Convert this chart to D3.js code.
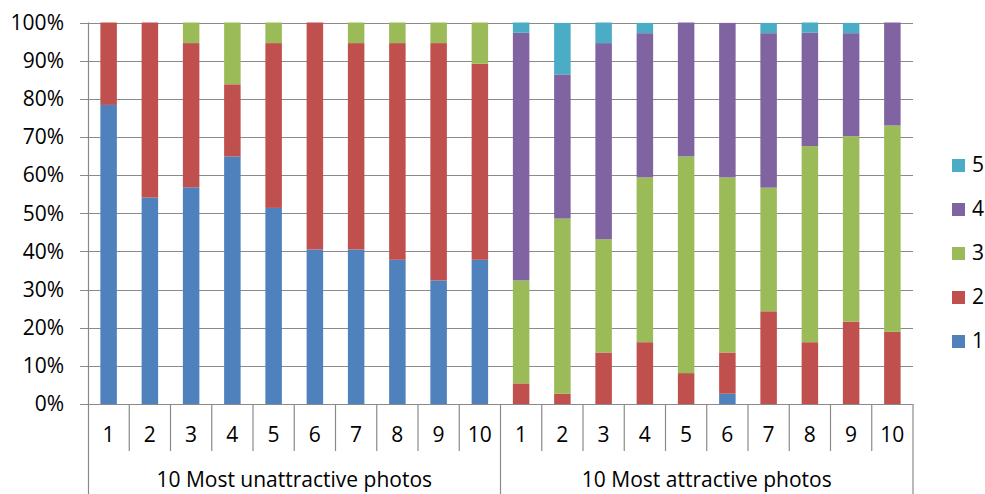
<!DOCTYPE html>
<html>
<head>
<meta charset="utf-8">
<script src="https://cdn.jsdelivr.net/npm/d3@7"></script>
<style>
  html, body { margin: 0; padding: 0; background: #fff; }
  svg { display: block; font-family: "Open Sans", "Noto Sans", sans-serif; }
</style>
</head>
<body>
<svg id="chart" width="985" height="494"></svg>
<script>
// ---- data ----
const groups = ["10 Most unattractive photos", "10 Most attractive photos"];
const photoLabels = ["1","2","3","4","5","6","7","8","9","10"];
const seriesKeys = ["1","2","3","4","5"];
const seriesColors = ["#4F81BD", "#C0504D", "#9BBB59", "#8064A2", "#4BACC6"];
const yTicks = [0, 0.1, 0.2, 0.3, 0.4, 0.5, 0.6, 0.7, 0.8, 0.9, 1.0];

// percentages per photo (series 1..5), unattractive group
const unattr1 = [78.4, 54.1, 56.8, 64.9, 51.4, 40.5, 40.5, 37.8, 32.4, 37.8];
const unattr2 = [21.6, 45.9, 37.8, 18.9, 43.2, 59.5, 54.1, 56.8, 62.2, 51.4];
const unattr3 = [0, 0, 5.4, 16.2, 5.4, 0, 5.4, 5.4, 5.4, 10.8];
const unattr4 = [0, 0, 0, 0, 0, 0, 0, 0, 0, 0];
const unattr5 = [0, 0, 0, 0, 0, 0, 0, 0, 0, 0];
// attractive group
const attr1 = [0, 0, 0, 0, 0, 2.7, 0, 0, 0, 0];
const attr2 = [5.4, 2.7, 13.5, 16.2, 8.1, 10.8, 24.3, 16.2, 21.6, 18.9];
const attr3 = [27.0, 45.9, 29.7, 43.2, 56.8, 45.9, 32.4, 51.4, 48.6, 54.1];
const attr4 = [64.9, 37.8, 51.4, 37.8, 35.1, 40.5, 40.5, 29.7, 27.0, 27.0];
const attr5 = [2.7, 13.5, 5.4, 2.7, 0, 0, 2.7, 2.7, 2.7, 0];

// ---- build table ----
const uSeries = [unattr1, unattr2, unattr3, unattr4, unattr5];
const aSeries = [attr1, attr2, attr3, attr4, attr5];
const rows = [];
[uSeries, aSeries].forEach((ser, g) => {
  photoLabels.forEach((lab, i) => {
    const r = { id: g + "-" + lab, group: g, label: lab };
    seriesKeys.forEach((k, s) => { r[k] = ser[s][i] / 100; });
    rows.push(r);
  });
});

const svg = d3.select("#chart");
const W = 985, H = 494;
const x0 = 88, x1 = 913;
const yTop = 22.5, yBot = 404;
const fs = 21;

const x = d3.scaleBand().domain(rows.map(d => d.id)).range([x0, x1])
  .paddingInner(0.6).paddingOuter(0.3);
const y = d3.scaleLinear().domain([0, 1]).range([yBot, yTop]);
const color = d3.scaleOrdinal().domain(seriesKeys).range(seriesColors);

const gridColor = "#8a8a8a";

// gridlines + ticks
svg.append("g").selectAll("line").data(yTicks.filter(t => t > 0)).join("line")
  .attr("x1", x0 - 8).attr("x2", x1)
  .attr("y1", d => Math.round(y(d)) + 0.5).attr("y2", d => Math.round(y(d)) + 0.5)
  .attr("stroke", gridColor).attr("stroke-width", 1.2);

// bars
const stack = d3.stack().keys(seriesKeys)(rows);
svg.append("g").selectAll("g").data(stack).join("g")
  .attr("fill", d => color(d.key))
  .selectAll("rect").data(d => d.filter(p => p[1] - p[0] > 0)).join("rect")
  .attr("x", d => x(d.data.id))
  .attr("width", x.bandwidth())
  .attr("y", d => y(d[1]))
  .attr("height", d => y(d[0]) - y(d[1]));

// y axis labels
svg.append("g").selectAll("text").data(yTicks).join("text")
  .attr("x", 64).attr("y", d => y(d))
  .attr("dy", "0.35em")
  .attr("text-anchor", "end")
  .attr("font-size", fs).attr("fill", "#000")
  .text(d => d3.format(".0%")(d));

// baseline and axis lines
const axis = svg.append("g").attr("stroke", gridColor).attr("stroke-width", 1.2);
axis.append("line").attr("x1", x0 - 8).attr("x2", x1).attr("y1", yBot + 0.5).attr("y2", yBot + 0.5);
axis.append("line").attr("x1", x0 + 0.5).attr("x2", x0 + 0.5).attr("y1", yTop).attr("y2", H);
// category dividers
const step = x.step();
const dividers = d3.range(1, rows.length + 1).map(i => x0 + i * step);
axis.selectAll(".div").data(dividers).join("line")
  .attr("x1", d => d).attr("x2", d => d)
  .attr("y1", yBot).attr("y2", (d, i) => (i === 9 || i === 19) ? H : 451);

// category labels
svg.append("g").selectAll("text").data(rows).join("text")
  .attr("x", d => x(d.id) + x.bandwidth() / 2)
  .attr("y", 435).attr("dy", "0.35em")
  .attr("text-anchor", "middle").attr("font-size", fs)
  .text(d => d.label);

// group labels
svg.append("g").selectAll("text").data(groups).join("text")
  .attr("x", (d, g) => x0 + step * (g * 10 + 5))
  .attr("y", 480).attr("dy", "0.35em")
  .attr("text-anchor", "middle").attr("font-size", fs)
  .text(d => d);

// legend
const legendKeys = seriesKeys.slice().reverse();
const lg = svg.append("g").selectAll("g").data(legendKeys).join("g")
  .attr("transform", (d, i) => `translate(952, ${165 + i * 44})`);
lg.append("rect").attr("x", 0).attr("y", -6).attr("width", 13).attr("height", 13)
  .attr("fill", d => color(d));
lg.append("text").attr("x", 20).attr("y", 0).attr("dy", "0.35em")
  .attr("font-size", fs).text(d => d);
</script>
</body>
</html>
